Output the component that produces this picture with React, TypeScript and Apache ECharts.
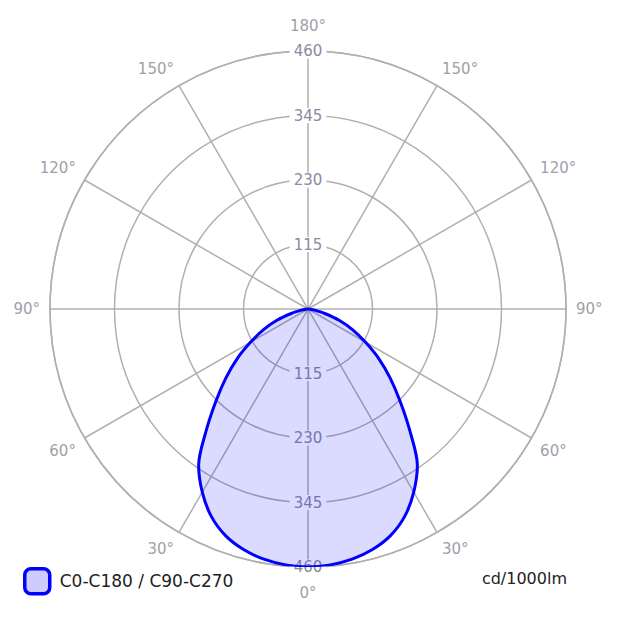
import React, { useEffect, useRef } from "react";
import * as echarts from "echarts";

// Luminous intensity (cd/1000lm) vs. gamma angle (degrees from nadir), symmetric curve
const gammaAngles = [0, 5, 10, 15, 20, 25, 30, 35, 40, 45, 50, 55, 60, 65, 70, 75, 80, 85, 90];
const intensity = [460, 458, 453, 444, 430, 408, 377, 340, 282, 232, 191, 154, 118, 88, 59, 31, 12, 3, 0];
const radiusMax = 460;
const radiusStep = 115;
const seriesName = "C0-C180 / C90-C270";
const unitLabel = "cd/1000lm";

const FONT = "DejaVu Sans";

export default function App() {
  const ref = useRef<HTMLDivElement>(null);
  useEffect(() => {
    if (!ref.current) return;
    const chart = echarts.init(ref.current, undefined, { renderer: "svg" });

    const data: [number, number][] = [];
    for (let i = gammaAngles.length - 1; i >= 0; i--) data.push([intensity[i], -gammaAngles[i]]);
    for (let i = 1; i < gammaAngles.length; i++) data.push([intensity[i], gammaAngles[i]]);

    const gridColor = "#b0b0b0";
    const center = [308, 309];
    const radius = 258;

    const radiusLabel = {
      showMinLabel: false,
      margin: 0,
      align: "center",
      verticalAlign: "middle",
      color: "#8a8aa2",
      fontSize: 15,
      fontFamily: FONT,
      backgroundColor: "#ffffff",
      padding: [0, 4, 0, 4],
    };

    chart.setOption({
      animation: false,
      backgroundColor: "#ffffff",
      textStyle: { fontFamily: FONT },
      polar: [
        { center, radius },
        { center, radius },
      ],
      angleAxis: [
        {
          polarIndex: 0,
          type: "value",
          min: -180,
          max: 180,
          interval: 30,
          startAngle: 90,
          clockwise: true,
          axisLine: { show: true, lineStyle: { color: gridColor, width: 1.5 } },
          axisTick: { show: false },
          splitLine: { show: true, lineStyle: { color: gridColor, width: 1.5 } },
          axisLabel: {
            margin: 10,
            color: "#a0a0a8",
            fontSize: 15,
            fontFamily: FONT,
            formatter: (v: number) => {
              const a = Math.abs(v);
              return a === 0 || a === 180 ? "{tb|" + a + "°}" : a + "°";
            },
            rich: {
              tb: { fontSize: 15, color: "#a0a0a8", fontFamily: FONT, padding: [8, 0, 8, 0] },
            },
          },
        },
        {
          polarIndex: 1,
          type: "value",
          min: 0,
          max: 360,
          interval: 30,
          startAngle: 270,
          show: false,
        },
      ],
      radiusAxis: [
        {
          polarIndex: 0,
          type: "value",
          min: 0,
          max: radiusMax,
          interval: radiusStep,
          axisLine: { show: false },
          axisTick: { show: false },
          splitLine: { show: true, lineStyle: { color: gridColor, width: 1.5 } },
          axisLabel: radiusLabel,
        },
        {
          polarIndex: 1,
          type: "value",
          min: 0,
          max: radiusMax,
          interval: radiusStep,
          axisLine: { show: false },
          axisTick: { show: false },
          splitLine: { show: false },
          axisLabel: radiusLabel,
        },
      ],
      legend: {
        left: 23,
        top: 567,
        padding: 0,
        itemWidth: 25,
        itemHeight: 25,
        itemGap: 10,
        textStyle: { fontSize: 17, color: "#222222", fontFamily: FONT, padding: [0, 0, 0, 5] },
        data: [
          {
            name: seriesName,
            icon: "roundRect",
            itemStyle: { color: "rgba(0,0,255,0.2)", borderColor: "#0000ff", borderWidth: 3.5 },
          },
        ],
      },
      title: {
        text: unitLabel,
        right: 53,
        top: 570,
        padding: 0,
        textStyle: { fontSize: 16, fontWeight: "normal", color: "#222222", fontFamily: FONT },
      },
      series: [
        {
          name: seriesName,
          type: "line",
          coordinateSystem: "polar",
          polarIndex: 0,
          data,
          smooth: 0.3,
          showSymbol: false,
          symbol: "none",
          lineStyle: { color: "#0000ff", width: 3 },
          itemStyle: { color: "#0000ff" },
          areaStyle: { color: "rgba(0,0,255,0.2)" },
        },
      ],
    });
    return () => chart.dispose();
  }, []);
  return (
    <div
      ref={ref}
      style={{ position: "fixed", left: 0, top: 0, width: 620, height: 620, background: "#fff" }}
    />
  );
}
